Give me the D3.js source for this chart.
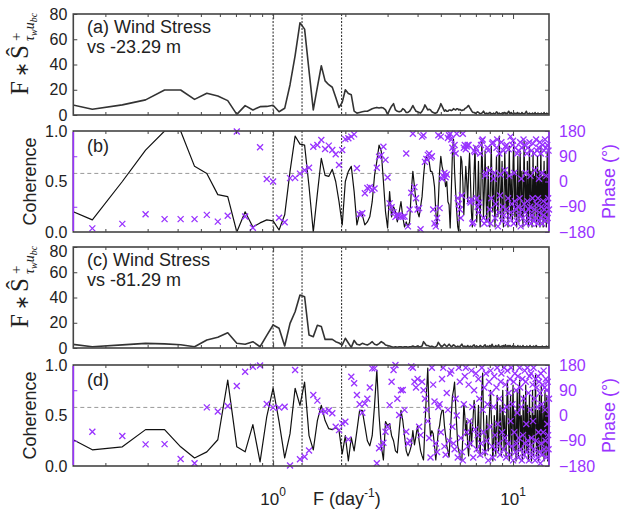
<!DOCTYPE html>
<html>
<head>
<meta charset="utf-8">
<script src="https://cdn.jsdelivr.net/npm/d3@7"></script>
<style>
  body { margin: 0; background: #fff; }
  svg { display: block; }
  text { font-family: "Liberation Sans", Arial, sans-serif; fill: #222; }
</style>
</head>
<body>
<svg id="chart" width="627" height="512"></svg>
<script>
// spectral bins: f = (firstBin + i) * freqStep  (day^-1)
var freqStep = 1 / 17;
var firstBin = 2;

// (a) F * S+ spectrum, wind stress vs -23.29 m
var specA = [
  12, 4.5, 8, 12, 19.8, 19.8, 12.4, 17.2, 15, 11.4,
  0.5, 7.4, 4, 6.6, 6.8, 7.7, 2.6, 5.3, 24, 47,
  73, 68, 35, 4, 22, 39, 27, 24, 22, 14,
  6, 10, 20, 17, 16, 3, 1.5, 2, 2.5, 3,
  3, 4, 5, 5.5, 6, 5.5, 6, 5.5, 4, 0.5,
  4, 7, 9, 4, 3, 2.5, 3, 5, 4, 2,
  2, 3, 5, 7.5, 5, 3, 2.5, 2, 1.5, 3,
  5, 8, 6, 4, 4.5, 4, 2.5, 2, 1.5, 1.5,
  2, 4, 6, 9, 7, 5, 3, 4, 3, 3,
  4, 4, 3.5, 4, 5, 4.5, 4, 5, 5, 4,
  4.5, 4, 3.5, 4, 4, 5, 5.5, 6, 7, 7.5,
  6, 5, 3.5, 2.5, 2, 2, 1.5, 1.5, 2, 2.5,
  2, 1.5, 1, 1, 1.5, 2, 3, 2, 1, 1,
  1.5, 1, 1, 1.5, 2, 1.5, 1, 1, 1, 1.5,
  1, 1, 1.5, 2.5, 2, 1, 1, 1.5, 1, 1,
  1, 1.5, 1, 1, 2, 2, 1, 1.5, 1, 1,
  2, 3, 2, 1, 1, 2, 1.5, 1, 1, 1,
  1, 1.5, 1, 1, 1, 2, 1, 1, 1.5, 1,
  1, 1, 1, 2, 1.5, 1, 1, 1, 1, 1.5,
  2, 3, 2, 1, 1, 1, 1, 1.5, 1, 1,
  1, 1, 1, 1.5, 1, 1, 1, 1, 2, 1,
  1, 1, 1, 1, 1.5, 1, 1, 1, 1, 1,
  1, 1.5, 1, 1, 1, 1, 1, 2, 1, 1,
  1, 1, 1, 1.5, 1, 1, 1, 1, 1.5
];

// (b) coherence and phase (deg)
var cohB = [
  0.3, 0.12, 0.5, 0.81, 1.0, 1.0, 0.65, 0.58, 0.37, 0.35,
  0.0, 0.2, 0.05, 0.09, 0.12, 0.11, 0.02, 0.17, 0.6, 0.95,
  0.87, 0.86, 0.45, 0.0, 0.38, 0.73, 0.56, 0.55, 0.62, 0.5,
  0.3, 0.07, 0.5, 0.6, 0.65, 0.4, 0.07, 0.19, 0.17, 0.07,
  0.1, 0.15, 0.3, 0.56, 0.7, 0.86, 0.8, 0.5, 0.2, 0.04,
  0.4, 0.15, 0.25, 0.2, 0.1, 0.2, 0.3, 0.15, 0.05, 0.1,
  0.05, 0.1, 0.4, 0.6, 0.45, 0.3, 0.2, 0.15, 0.25, 0.35,
  0.55, 0.7, 0.75, 0.72, 0.7, 0.6, 0.6, 0.55, 0.45, 0.2,
  0.05, 0.3, 0.6, 0.75, 0.65, 0.6, 0.55, 0.45, 0.5, 0.3,
  0.27, 0.04, 0.4, 0.78, 0.92, 0.6, 0.4, 0.2, 0.05, 0.0,
  0.3, 0.75, 0.7, 0.5, 0.17, 0.4, 0.65, 0.5, 0.3, 0.6,
  0.78, 0.5, 0.2, 0.05, 0.3, 0.6, 0.85, 0.4, 0.1, 0.35,
  0.7, 0.3, 0.05, 0.5, 0.9, 0.6, 0.15, 0.4, 0.8, 0.45,
  0.1, 0.3, 0.65, 0.2, 0.05, 0.55, 0.85, 0.4, 0.2, 0.6,
  0.3, 0.05, 0.45, 0.75, 0.35, 0.15, 0.5, 0.95, 0.5, 0.1,
  0.4, 0.7, 0.25, 0.05, 0.35, 0.8, 0.5, 0.2, 0.6, 0.3,
  0.05, 0.5, 0.85, 0.4, 0.15, 0.55, 0.3, 0.1, 0.65, 0.9,
  0.45, 0.15, 0.6, 0.3, 0.05, 0.4, 0.75, 0.35, 0.1, 0.5,
  0.8, 0.4, 0.15, 0.6, 0.25, 0.05, 0.45, 0.9, 0.5, 0.2,
  0.55, 0.3, 0.1, 0.7, 0.35, 0.05, 0.5, 0.85, 0.4, 0.15,
  0.6, 0.25, 0.05, 0.4, 0.8, 0.35, 0.1, 0.55, 0.3, 0.65,
  0.2, 0.05, 0.5, 0.75, 0.3, 0.1, 0.6, 0.35, 0.05, 0.45,
  0.85, 0.4, 0.15, 0.55, 0.25, 0.05, 0.5, 0.7, 0.3, 0.1,
  0.6, 0.35, 0.05, 0.45, 0.8, 0.3, 0.1, 0.55, 0.75
];
var phaseB = [
  -150, -167, -151, -117, -134, -134, -134, -119, -143, -122,
  178, -125, -165, 122, 9, 0, -129, -145, 12, 13,
  28, 40, 49, 124, 130, 148, 116, 128, 112, 97,
  59, 112, 151, 154, 160, 168, 47, -117, -113, -42,
  -23, -20, -30, -25, 49, 88, 94, 124, 77, 14,
  -78, -92, -110, -126, -120, -120, -126, -126, -125, 100,
  -160, -100, -40, 170, -20, -60, -100, -95, -170, 160,
  165, 70, 80, 95, 100, 85, 90, -100, -150, -160,
  -130, 165, -95, 160, 10, 20, 30, 15, 25, 155,
  165, 170, 150, 120, 110, 130, 100, 170, -60, -80,
  -100, -130, -50, 170, 120, 130, 115, 125, 130, 130,
  -70, -75, -65, -150, -145, 110, 105, 120, -60, -90,
  -110, -75, 100, 130, 145, 150, -130, -150, 20, 30,
  -140, 120, 110, 40, -100, -150, -60, 135, 140, 10,
  30, -130, -80, 120, 150, -160, -110, 100, -50, 25,
  140, -140, -90, 110, -120, 40, 125, -100, 130, -150,
  -60, 115, 20, -130, 160, -110, -80, 130, 145, -150,
  30, -70, 120, -100, -140, 100, -90, 110, -120, -60,
  140, -160, 10, 120, -100, -130, 150, -80, 130, -110,
  30, -150, 100, -70, 120, -130, -100, 140, -90, 20,
  -150, 110, -120, -60, 135, -140, 100, -100, 40, -130,
  150, -80, 110, -150, -60, 120, 10, -110, 140, -130,
  100, -90, 30, -150, 130, -70, -120, 110, -100, 150,
  -140, 120, 20, -80, 130, -130, -60, 110, -100
];

// (c) F * S+ spectrum, wind stress vs -81.29 m
var specC = [
  5, 1, 2.5, 3.7, 3.3, 2.6, 1, 6.3, 8.5, 12,
  3.7, 3, 5, 1, 10, 18.2, 15.6, 1.6, 19.5, 28.7,
  42, 40.6, 10.3, 9, 18, 17, 6.8, 6.8, 6.8, 5,
  4, 2.4, 7.7, 4, 0.5, 6, 3, 2.4, 3.7, 3,
  2.4, 3.5, 5, 3, 2.4, 3.5, 5, 4, 2.4, 2,
  1.5, 1, 0.5, 1, 0.5, 1, 1, 0.5, 1, 1,
  0.5, 1, 1, 1.5, 1, 1, 1.5, 1, 1, 1.5,
  5, 3.5, 2, 2, 1.5, 1, 1.5, 1, 0.5, 1,
  2, 4.5, 3, 1.5, 1, 2, 3, 2, 1, 2,
  3, 2, 1, 1.5, 2.5, 2, 1, 1, 1.5, 1,
  1, 2, 3, 1.5, 1, 1.5, 1, 1, 2, 1,
  1, 1.5, 1, 1, 2, 2.5, 1, 1, 1.5, 1,
  1, 1, 2, 1.5, 1, 1, 1, 2, 2.5, 1,
  1, 1.5, 1, 1, 2, 1, 1, 3, 1.5, 1,
  1, 1, 2, 1, 1, 1.5, 2.5, 1, 1, 1,
  1.5, 1, 1, 2, 1, 1, 2.5, 1.5, 1, 1,
  2, 1, 1, 2, 1.5, 1, 1, 1, 2, 1,
  1, 1.5, 1, 1, 1, 1, 2, 1, 1, 1,
  1.5, 1, 1, 1, 1, 2, 1, 1, 1, 1,
  1, 1, 1.5, 1, 1, 1, 1, 1, 2, 1,
  1, 1, 1, 1, 1, 1.5, 1, 1, 1, 1,
  2, 1.5, 1, 1, 1, 1, 1, 1, 1, 1,
  1, 1, 1, 1.5, 1, 1, 1, 1, 1, 1,
  1, 1, 1.5, 1, 1, 1, 1, 1.5, 1
];

// (d) coherence and phase (deg)
var cohD = [
  0.38, 0.16, 0.19, 0.36, 0.36, 0.19, 0.08, 0.14, 0.26, 0.85,
  0.19, 0.14, 0.41, 0.04, 0.49, 0.77, 0.44, 0.08, 0.32, 0.77,
  0.6, 0.83, 0.3, 0.16, 0.45, 0.6, 0.45, 0.37, 0.36, 0.38,
  0.35, 0.12, 0.3, 0.05, 0.28, 0.15, 0.35, 0.55, 0.55, 0.4,
  0.25, 0.2, 0.3, 0.6, 0.95, 0.5, 0.2, 0.06, 0.44, 0.4,
  0.42, 0.3, 0.25, 0.15, 0.13, 0.35, 0.55, 0.45, 0.3, 0.15,
  0.1, 0.14, 0.2, 0.35, 0.21, 0.3, 0.4, 0.25, 0.15, 0.1,
  0.06, 0.4, 0.7, 0.97, 0.5, 0.3, 0.35, 0.32, 0.2, 0.06,
  0.2, 0.35, 0.4, 0.5, 0.55, 0.55, 0.4, 0.3, 0.2, 0.15,
  0.09, 0.3, 0.5, 0.69, 0.75, 0.83, 0.6, 0.4, 0.2, 0.15,
  0.1, 0.06, 0.06, 0.3, 0.62, 0.5, 0.3, 0.45, 0.2, 0.1,
  0.3, 0.45, 0.2, 0.35, 0.5, 0.65, 0.55, 0.3, 0.15, 0.4,
  0.6, 0.3, 0.1, 0.5, 0.75, 0.92, 0.5, 0.2, 0.1, 0.3,
  0.5, 0.3, 0.15, 0.4, 0.6, 0.75, 0.5, 0.3, 0.05, 0.2,
  0.5, 0.35, 0.1, 0.4, 0.7, 0.45, 0.15, 0.3, 0.6, 0.35,
  0.1, 0.45, 0.75, 0.4, 0.15, 0.5, 0.3, 0.1, 0.55, 0.85,
  0.6, 0.3, 0.05, 0.45, 0.7, 0.3, 0.1, 0.5, 0.8, 0.4,
  0.15, 0.55, 0.3, 0.05, 0.45, 0.75, 0.35, 0.1, 0.6, 0.85,
  0.4, 0.15, 0.5, 0.3, 0.05, 0.55, 0.7, 0.3, 0.1, 0.45,
  0.8, 0.35, 0.15, 0.6, 0.25, 0.05, 0.4, 0.7, 0.3, 0.5,
  0.2, 0.05, 0.45, 0.75, 0.35, 0.1, 0.5, 0.25, 0.6, 0.9,
  0.4, 0.1, 0.35, 0.55, 0.2, 0.05, 0.45, 0.7, 0.3, 0.15,
  0.5, 0.8, 0.4, 0.1, 0.3, 0.6, 0.25, 0.05, 0.45, 0.75,
  0.35, 0.1, 0.5, 0.7, 0.3, 0.05, 0.4, 0.65, 0.55
];
var phaseD = [
  -40, -58, -73, -103, -102, -155, -170, 29, 14, 34,
  105, 156, 174, 178, 41, 28, 28, 31, -178, 162,
  -156, -147, -125, 73, 53, 14, 14, 18, 8, -40,
  -52, -28, -22, -85, 138, 115, 73, 40, 10, 43,
  60, 100, 168, 168, -170, -117, -110, -97, -58, -40,
  37, 120, 162, 180, 60, 2, 90, 91, 20, -58,
  -100, -90, 175, 170, 120, 100, 130, -40, -70, 120,
  90, 60, 20, -20, -80, -150, 170, 110, 50, -100,
  -130, 30, 40, -60, 130, 170, -110, -140, 80, 20,
  -90, 150, 160, -40, -100, -120, 60, 0, -150, 170,
  120, -80, -130, -160, 40, 140, 170, -60, -110, 110,
  -20, -100, 160, 30, -150, 90, -50, 150, -120, -70,
  130, 60, -140, -100, 170, 20, -60, 100, -130, 150,
  -90, 40, -160, 120, -40, 160, 80, -110, -150, 30,
  140, -70, -120, 100, 170, -30, -100, 60, -140, 120,
  150, -60, 20, -120, 170, -80, 110, -150, 30, 160,
  -100, 80, -140, 130, -20, 170, -110, 40, -160, 120,
  -60, 150, -130, 90, -100, 10, 140, -150, -80, 170,
  100, -120, 30, -160, 130, -70, 60, -140, 160, -100,
  120, -30, -130, 170, -90, 80, -160, 140, -110, 20,
  150, -80, -140, 110, -20, 170, -120, 60, -160, 130,
  -90, 100, 30, -150, 140, -60, 120, -130, 80, -170,
  150, -100, 40, -140, 110, -60, 160, -120, 100, 20,
  -90, 130, -150, 90, -30, 120, -70, -120, 60
];

// reference lines and labels
var tideFreqs = [1.0, 1.32, 1.93];
var cohLevel = 0.58;
var specTicks = [0, 20, 40, 60, 80];
var cohTicks = [0, 0.5, 1];
var phaseTicks = [-180, -90, 0, 90, 180];
var panelTags = ["(a) Wind Stress", "(b)", "(c) Wind Stress", "(d)"];
var depthLabels = ["vs -23.29 m", "", "vs -81.29 m", ""];

var purple = "#9933ff";
var left = 73.3, right = 549;
var svg = d3.select("#chart");

var x = d3.scaleLog().domain([0.147, 14.12]).range([left, right]);
var freqOf = function(i) { return (firstBin + i) * freqStep; };
var minorTicks = [0.2, 0.3, 0.4, 0.5, 0.6, 0.7, 0.8, 0.9, 2, 3, 4, 5, 6, 7, 8, 9];
var majorTicks = [1, 10];

var panels = [
  {id: "a", top: 14,  bottom: 115, kind: "spec", vals: specA},
  {id: "b", top: 131, bottom: 232, kind: "coh",  vals: cohB, phase: phaseB},
  {id: "c", top: 247, bottom: 348, kind: "spec", vals: specC},
  {id: "d", top: 365, bottom: 466, kind: "coh",  vals: cohD, phase: phaseD}
];

panels.forEach(function(p, pi) {
  var g = svg.append("g");
  var y = d3.scaleLinear()
      .domain(p.kind == "spec" ? [0, 80] : [0, 1])
      .range([p.bottom, p.top]);

  g.append("clipPath").attr("id", "clip-" + p.id)
    .append("rect")
      .attr("x", left).attr("y", p.top)
      .attr("width", right - left).attr("height", p.bottom - p.top);

  // dashed frequency markers
  g.selectAll(".tide").data(tideFreqs).enter().append("line")
    .attr("x1", function(d) { return x(d); })
    .attr("x2", function(d) { return x(d); })
    .attr("y1", p.top).attr("y2", p.bottom)
    .attr("stroke", "#222").attr("stroke-width", 1)
    .attr("stroke-dasharray", "2,1.5");

  if (p.kind == "coh") {
    g.append("line")
      .attr("x1", left).attr("x2", right)
      .attr("y1", y(cohLevel)).attr("y2", y(cohLevel))
      .attr("stroke", "#999").attr("stroke-width", 1)
      .attr("stroke-dasharray", "4,3");
  }

  var line = d3.line()
      .x(function(d, i) { return x(freqOf(i)); })
      .y(function(d) { return y(d); });

  g.append("path").datum(p.vals)
    .attr("clip-path", "url(#clip-" + p.id + ")")
    .attr("d", line)
    .attr("fill", "none")
    .attr("stroke", p.kind == "spec" ? "#333" : "#111")
    .attr("stroke-width", p.kind == "spec" ? 1.6 : 1.2)
    .attr("stroke-linejoin", "round");

  if (p.kind == "coh") {
    var yp = d3.scaleLinear().domain([-180, 180]).range([p.bottom, p.top]);
    var pts = p.phase.map(function(v, i) { return {f: freqOf(i), v: v}; })
      .filter(function(d) { return d.f >= x.domain()[0] && d.f <= x.domain()[1]; });
    g.selectAll(".ph").data(pts).enter().append("path")
      .attr("d", "M-3,-3L3,3M-3,3L3,-3")
      .attr("transform", function(d) { return "translate(" + x(d.f) + "," + yp(d.v) + ")"; })
      .attr("stroke", purple).attr("stroke-width", 1.3).attr("fill", "none");

    // phase axis on the right
    g.append("g").attr("transform", "translate(" + right + ",0)")
      .call(d3.axisRight(yp).tickValues(phaseTicks).tickSizeInner(-4).tickSizeOuter(0).tickPadding(10))
      .call(function(a) {
        a.select(".domain").remove();
        a.selectAll("line").attr("stroke", purple);
        a.selectAll("text").style("fill", purple).attr("font-size", 16)
          .attr("font-family", "Liberation Sans, Arial, sans-serif");
      });
    // mirrored phase ticks on the left
    g.append("g").attr("transform", "translate(" + left + ",0)")
      .call(d3.axisLeft(yp).tickValues([-90, 90]).tickSizeInner(-4).tickSizeOuter(0).tickFormat(""))
      .call(function(a) {
        a.select(".domain").remove();
        a.selectAll("line").attr("stroke", purple);
      });
  }

  // left axis labels
  g.append("g").attr("transform", "translate(" + left + ",0)")
    .call(d3.axisLeft(y).tickValues(p.kind == "spec" ? specTicks : cohTicks)
      .tickSizeInner(p.kind == "spec" ? -4 : 0).tickSizeOuter(0).tickPadding(6))
    .call(function(a) {
      a.select(".domain").remove();
      a.selectAll("line").attr("stroke", "#444");
      a.selectAll("text").attr("font-size", 16).style("fill", "#222")
        .attr("font-family", "Liberation Sans, Arial, sans-serif");
      // the top label of the lower spectrum sits a little lower, clear of the panel above
      if (p.id == "c") {
        a.selectAll(".tick").filter(function(d) { return d == 80; })
          .select("text").attr("dy", "0.62em");
      }
    });
  if (p.kind == "spec") {
    g.append("g").attr("transform", "translate(" + right + ",0)")
      .call(d3.axisRight(y).tickValues([20, 40, 60]).tickSizeInner(-4).tickSizeOuter(0).tickFormat(""))
      .call(function(a) {
        a.select(".domain").remove();
        a.selectAll("line").attr("stroke", "#666");
      });
  }

  // log ticks on top and bottom, pointing inward
  [[d3.axisTop, p.top], [d3.axisBottom, p.bottom]].forEach(function(ax) {
    g.append("g").attr("transform", "translate(0," + ax[1] + ")")
      .call(ax[0](x).tickValues(minorTicks).tickSizeInner(-3).tickSizeOuter(0).tickFormat(""))
      .call(function(a) { a.select(".domain").remove(); a.selectAll("line").attr("stroke", "#444"); });
    g.append("g").attr("transform", "translate(0," + ax[1] + ")")
      .call(ax[0](x).tickValues(majorTicks).tickSizeInner(-5).tickSizeOuter(0).tickFormat(""))
      .call(function(a) { a.select(".domain").remove(); a.selectAll("line").attr("stroke", "#444"); });
  });

  // frame
  g.append("rect")
    .attr("x", left).attr("y", p.top)
    .attr("width", right - left).attr("height", p.bottom - p.top)
    .attr("fill", "none").attr("stroke", "#444").attr("stroke-width", 1.6);
  if (p.kind == "coh") {
    [left, right].forEach(function(sx) {
      g.append("line").attr("x1", sx).attr("x2", sx)
        .attr("y1", p.top + 1).attr("y2", p.bottom - 1)
        .attr("stroke", purple).attr("stroke-width", 1.6);
    });
  }

  // panel tag
  g.append("text").attr("x", 87).attr("y", p.kind == "spec" ? p.top + 19 : p.top + 21)
    .attr("font-size", 18).text(panelTags[pi]);
  if (depthLabels[pi]) {
    g.append("text").attr("x", 87).attr("y", p.top + 39)
      .attr("font-size", 18).text(depthLabels[pi]);
  }

  // y titles
  var mid = (p.top + p.bottom) / 2;
  if (p.kind == "coh") {
    g.append("text").attr("transform", "translate(36," + mid + ") rotate(-90)")
      .attr("text-anchor", "middle").attr("font-size", 18).text("Coherence");
    g.append("text").attr("transform", "translate(615," + mid + ") rotate(-90)")
      .attr("text-anchor", "middle").attr("font-size", 18).style("fill", purple).text("Phase (\u00b0)");
  } else {
    var lab = g.append("g").attr("transform", "translate(28," + (p.bottom - 20) + ") rotate(-90)");
    lab.append("text").attr("x", 0).attr("y", 0).attr("font-size", 25)
      .style("font-family", "Liberation Serif, serif").text("F");
    lab.append("text").attr("x", 18).attr("y", 0).attr("font-size", 18)
      .style("font-family", "DejaVu Sans, sans-serif").text("\u2217");
    lab.append("text").attr("x", 36).attr("y", 0).attr("font-size", 25)
      .style("font-family", "Liberation Serif, serif").text("\u015C");
    lab.append("text").attr("x", 54).attr("y", -7).attr("font-size", 15)
      .style("font-family", "Liberation Serif, serif").text("+");
    var sub = lab.append("text").attr("x", 54).attr("y", 6).attr("font-size", 14)
      .style("font-family", "Liberation Serif, serif").style("font-style", "italic");
    sub.append("tspan").text("\u03C4");
    sub.append("tspan").attr("font-size", 10).attr("dy", 3).text("w");
    sub.append("tspan").attr("font-size", 14).attr("dy", -3).text("u");
    sub.append("tspan").attr("font-size", 10).attr("dy", 3).text("bc");
  }
});

// x axis labels under panel (d)
[[1, "0"], [10, "1"]].forEach(function(t) {
  var lbl = svg.append("text").attr("x", x(t[0])).attr("y", 505)
    .attr("text-anchor", "middle").attr("font-size", 17);
  lbl.append("tspan").text("10");
  lbl.append("tspan").attr("font-size", 12).attr("dy", -9).text(t[1]);
});
var xt = svg.append("text").attr("x", 313).attr("y", 505).attr("font-size", 18);
xt.append("tspan").text("F (day");
xt.append("tspan").attr("font-size", 12).attr("dy", -8).text("-1");
xt.append("tspan").attr("dy", 8).text(")");
</script>
</body>
</html>
